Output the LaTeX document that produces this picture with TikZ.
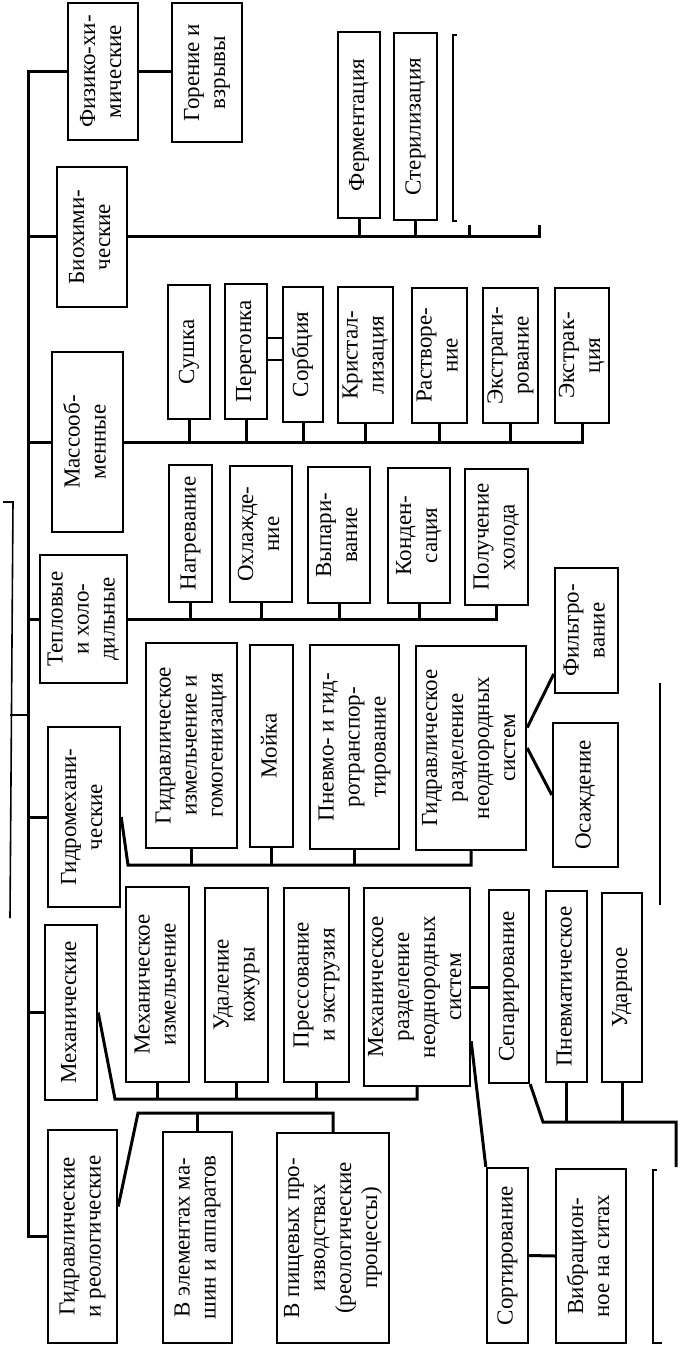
\documentclass[tikz,border=0pt]{standalone}
\usepackage{fontspec}
\setmainfont{Liberation Serif}
\usepackage{graphicx}
\newcommand\vtxt[1]{\rotatebox{90}{\begin{tabular}{@{}c@{}}#1\end{tabular}}}
\begin{document}
\begin{tikzpicture}[x=1pt,y=-1pt]
\useasboundingbox (0,0) rectangle (692,1348);
\begin{scope}[every node/.style={draw,line width=2.4pt,inner sep=0pt,font=\fontsize{23}{26}\selectfont}]
  \node[minimum width=70pt,minimum height=137pt] (fiz) at (103,71.5) {\vtxt{Физико-хи-\\мические}};
  \node[minimum width=70pt,minimum height=139pt] (gor) at (207,72.5) {\vtxt{Горение и\\взрывы}};
  \node[minimum width=42pt,minimum height=186pt] (ferm) at (359,125) {\vtxt{Ферментация}};
  \node[minimum width=43pt,minimum height=187pt] (ster) at (415.5,126.5) {\vtxt{Стерилизация}};
  \node[minimum width=70pt,minimum height=140pt] (bio) at (92,237) {\vtxt{Биохими-\\ческие}};
  \node[minimum width=71pt,minimum height=180pt] (mass) at (87.5,442) {\vtxt{Массооб-\\менные}};
  \node[minimum width=42pt,minimum height=134pt] (sush) at (189,352) {\vtxt{Сушка}};
  \node[minimum width=42pt,minimum height=135pt] (pereg) at (246,351.5) {\vtxt{Перегонка}};
  \node[minimum width=40pt,minimum height=135pt] (sorb) at (303,354.5) {\vtxt{Сорбция}};
  \node[minimum width=55pt,minimum height=136pt] (krist) at (365.5,355) {\vtxt{Кристал-\\лизация}};
  \node[minimum width=55pt,minimum height=135pt] (rastv) at (439.5,355.5) {\vtxt{Растворе-\\ние}};
  \node[minimum width=55pt,minimum height=135pt] (extrg) at (510.5,355.5) {\vtxt{Экстраги-\\рование}};
  \node[minimum width=54pt,minimum height=135pt] (extrk) at (582,355.5) {\vtxt{Экстрак-\\ция}};
  \node[minimum width=87pt,minimum height=128pt] (teplo) at (83.5,619) {\vtxt{Тепловые\\и холо-\\дильные}};
  \node[minimum width=43pt,minimum height=137pt] (nagr) at (190.5,533.5) {\vtxt{Нагревание}};
  \node[minimum width=62pt,minimum height=136pt] (ohl) at (261,534) {\vtxt{Охлажде-\\ние}};
  \node[minimum width=62pt,minimum height=136pt] (vyp) at (339,535) {\vtxt{Выпари-\\вание}};
  \node[minimum width=62pt,minimum height=135pt] (kond) at (419,535.5) {\vtxt{Конден-\\сация}};
  \node[minimum width=63pt,minimum height=136pt] (holod) at (496.5,537) {\vtxt{Получение\\холода}};
  \node[minimum width=72pt,minimum height=180pt] (gidro) at (84,817) {\vtxt{Гидромехани-\\ческие}};
  \node[minimum width=91pt,minimum height=205pt] (izm) at (191.5,745.5) {\vtxt{Гидравлическое\\измельчение и\\гомогенизация}};
  \node[minimum width=43pt,minimum height=202pt] (moyka) at (271.5,746) {\vtxt{Мойка}};
  \node[minimum width=89pt,minimum height=204pt] (pnevmo) at (354.5,747) {\vtxt{Пневмо- и гид-\\ротранспор-\\тирование}};
  \node[minimum width=110pt,minimum height=204pt] (hrazd) at (471,748) {\vtxt{Гидравлическое\\разделение\\неоднородных\\систем}};
  \node[minimum width=63pt,minimum height=125pt] (filtr) at (586.5,630.5) {\vtxt{Фильтро-\\вание}};
  \node[minimum width=65pt,minimum height=144pt] (osazh) at (585.5,795) {\vtxt{Осаждение}};
  \node[minimum width=52pt,minimum height=175pt] (mech) at (71,1012.5) {\vtxt{Механические}};
  \node[minimum width=63pt,minimum height=195pt] (mizm) at (157.5,984.5) {\vtxt{Механическое\\измельчение}};
  \node[minimum width=63pt,minimum height=194pt] (udal) at (236.5,985) {\vtxt{Удаление\\кожуры}};
  \node[minimum width=65pt,minimum height=194pt] (press) at (316.5,985) {\vtxt{Прессование\\и экструзия}};
  \node[minimum width=106pt,minimum height=198pt] (mrazd) at (417,987) {\vtxt{Механическое\\разделение\\неоднородных\\систем}};
  \node[minimum width=40pt,minimum height=193pt] (separ) at (509,986.5) {\vtxt{Сепарирование}};
  \node[minimum width=41pt,minimum height=191pt] (pnevm) at (566.5,986.5) {\vtxt{Пневматическое}};
  \node[minimum width=40pt,minimum height=189pt] (udar) at (622,987.5) {\vtxt{Ударное}};
  \node[minimum width=69pt,minimum height=213pt] (hr) at (82.5,1236.5) {\vtxt{Гидравлические\\и реологические}};
  \node[minimum width=69pt,minimum height=211pt] (elem) at (197.5,1237.5) {\vtxt{В элементах ма-\\шин и аппаратов}};
  \node[minimum width=112pt,minimum height=210pt] (pish) at (333,1238) {\vtxt{В пищевых про-\\изводствах\\(реологические\\процессы)}};
  \node[minimum width=41pt,minimum height=175pt] (sort) at (507.5,1255.5) {\vtxt{Сортирование}};
  \node[minimum width=70pt,minimum height=174pt] (vibr) at (591,1256) {\vtxt{Вибрацион-\\ное на ситах}};
\end{scope}
\begin{scope}[line width=3pt]
  \coordinate (sp) at (28,0);
  \coordinate (b1) at (539,225);
  \coordinate (b2) at (469,225);
  \coordinate (g1) at (128,865);
  \coordinate (m1) at (115,1099);
  \coordinate (c1) at (543,1122);
  \coordinate (c2) at (676,1167);
  \coordinate (h1) at (138,1113);
  \draw (fiz.west) -| (sp |- hr.west) -- (hr.west);
  \draw (bio.west) -- (bio.west -| sp);
  \draw (mass.west) -- (mass.west -| sp);
  \draw (teplo.west) -- (teplo.west -| sp);
  \draw (gidro.west) -- (gidro.west -| sp);
  \draw (mech.west) -- (mech.west -| sp);
  \draw (fiz.east) -- (fiz.east -| gor.west);
  \draw (bio.east) -| (b1);
  \draw (b2) -- (b2 |- bio.east);
  \draw (ferm.south) -- (ferm.south |- bio.east);
  \draw (ster.south) -- (ster.south |- bio.east);
  \draw (mass.east) -| (extrk.south);
  \foreach \n in {sush,pereg,sorb,krist,rastv,extrg}
    \draw (\n.south) -- (\n.south |- mass.east);
  \draw (teplo.east) -| (holod.south);
  \foreach \n in {nagr,ohl,vyp,kond}
    \draw (\n.south) -- (\n.south |- teplo.east);
  \draw (gidro.east) -- (g1) -| (hrazd.south);
  \foreach \n in {izm,moyka,pnevmo}
    \draw (\n.south) -- (\n.south |- g1);
  \draw (hrazd.20) -- (filtr.233);
  \draw (hrazd.east) -- (osazh.west);
  \draw (mech.east) -- (m1) -| (mrazd.south);
  \foreach \n in {mizm,udal,press}
    \draw (\n.south) -- (\n.south |- m1);
  \draw (mrazd.east) -- (mrazd.east -| separ.west);
  \draw (mrazd.315) -- (sort.north west);
  \draw (separ.south east) -- (c1) -| (c2);
  \foreach \n in {pnevm,udar}
    \draw (\n.south) -- (\n.south |- c1);
  \draw (sort.east) -- (vibr.west);
  \draw (hr.40) -- (h1) -| (pish.north);
  \draw (elem.north) -- (elem.north |- h1);
\end{scope}
\begin{scope}[line width=1.6pt]
  \draw (3,502) -- (13,502) -- (10,918);
  \draw (10,715) -- (sp |- 0,715);
  \draw (pereg.east |- 0,338) -- (sorb.west |- 0,338);
  \draw (pereg.east |- 0,360) -- (sorb.west |- 0,360);
  \draw (457,35) -- (453,35) -- (453,221) -- (457,221);
  \draw (660,683) -- (660,905);
  \draw (657,1170) -- (653,1170) -- (653,1343) -- (662,1343);
\end{scope}
\end{tikzpicture}
\end{document}
